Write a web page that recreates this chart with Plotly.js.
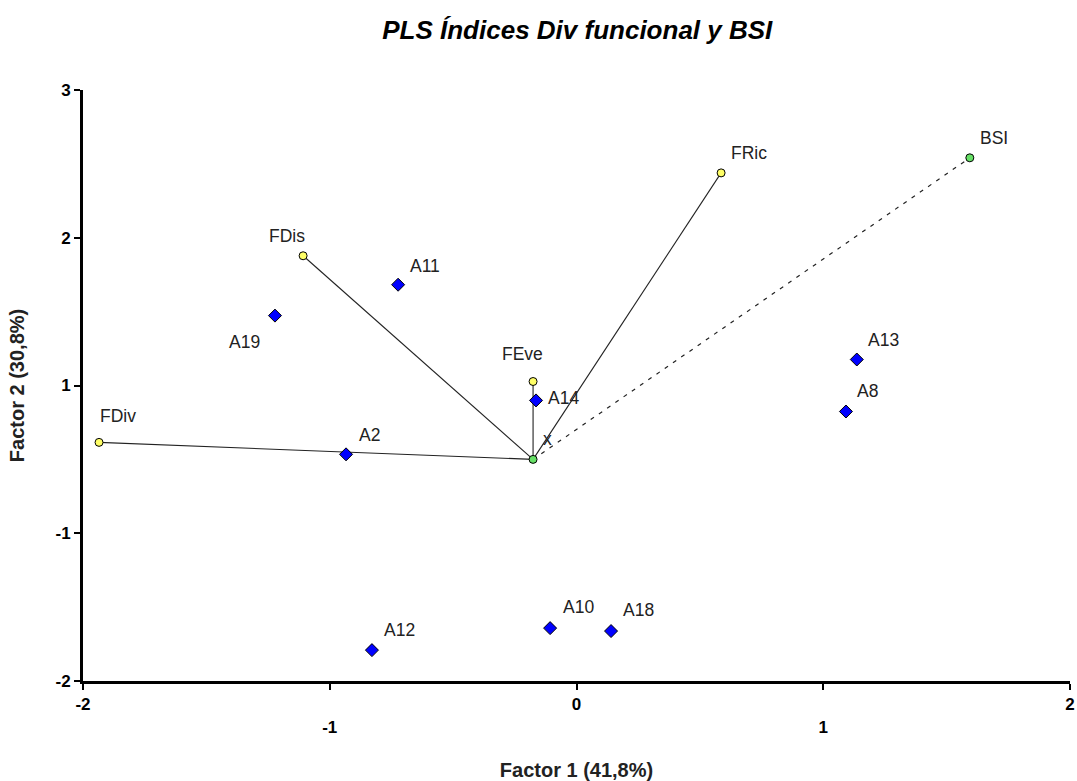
<!DOCTYPE html>
<html>
<head>
<meta charset="utf-8">
<script src="https://cdn.plot.ly/plotly-3.0.1.min.js"></script>
<style>html,body{margin:0;padding:0;background:#fff;}#chart{width:1077px;height:781px;}</style>
</head>
<body>
<div id="chart"></div>
<script>
// Centro del biplot
const centerName = ["x"];
const centerX = [-0.176];
const centerY = [-0.50];

// Variables (índices de diversidad funcional)
const varNames = ["FDiv", "FDis", "FEve", "FRic"];
const varX = [-1.935, -1.108, -0.176, 0.586];
const varY = [-0.385, 0.878, 0.027, 1.439];

// Variable respuesta
const respNames = ["BSI"];
const respX = [1.594];
const respY = [1.541];

// Sitios
const siteNames = ["A19", "A11", "A2", "A14", "A13", "A8", "A12", "A10", "A18"];
const siteX = [-1.222, -0.723, -0.934, -0.164, 1.136, 1.092, -0.829, -0.107, 0.140];
const siteY = [0.473, 0.682, -0.466, -0.101, 0.176, -0.176, -1.791, -1.642, -1.662];

// Ticks
const xTickVals = [-2, -1, 0, 1, 2];
const xTickText = ["-2", "<br>-1", "0", "<br>1", "2"];
const yTickVals = [-2, -1, 0, 1, 2];
const yTickText = ["-2", "-1", "1", "2", "3"];

const FONT = "Arial, 'Liberation Sans', sans-serif";
const NARROW = "'Liberation Sans Narrow', 'Arial Narrow', Arial, sans-serif";

const traces = [];
// solid vectors to variables
varX.forEach((vx, i) => {
  traces.push({
    x: [centerX[0], vx], y: [centerY[0], varY[i]],
    mode: "lines", line: {color: "#222", width: 1.1},
    hoverinfo: "skip", showlegend: false
  });
});
// dashed vector to BSI
respX.forEach((rx, i) => {
  traces.push({
    x: [centerX[0], rx], y: [centerY[0], respY[i]],
    mode: "lines", line: {color: "#222", width: 1.2, dash: "4px,6px"},
    hoverinfo: "skip", showlegend: false
  });
});
traces.push({
  x: siteX, y: siteY, text: siteNames, mode: "markers",
  marker: {symbol: "diamond", size: 10, color: "#0000ff", line: {color: "#000", width: 1}},
  showlegend: false
});
traces.push({
  x: varX, y: varY, text: varNames, mode: "markers",
  marker: {symbol: "circle", size: 8, color: "#ffff66", line: {color: "#000", width: 1}},
  showlegend: false
});
traces.push({
  x: respX.concat(centerX), y: respY.concat(centerY), mode: "markers",
  marker: {symbol: "circle", size: 8, color: "#66e066", line: {color: "#000", width: 1}},
  showlegend: false
});

// label offsets (px) relative to points
const siteOff = {A19: [-30, -26], A11: [27, 19], A2: [23, 19], A14: [27, 2], A13: [27, 20], A8: [22, 21], A12: [28, 20], A10: [28, 21], A18: [27, 21]};
const varOff = {FDiv: [19, 26], FDis: [-16, 20], FEve: [-11, 28], FRic: [28, 20]};
const respOff = {BSI: [24, 20]};
const centerOff = {x: [14, 20]};

const ann = [];
function addLabels(names, xs, ys, off) {
  names.forEach((n, i) => {
    ann.push({
      x: xs[i], y: ys[i], xref: "x", yref: "y", text: n, showarrow: false,
      xshift: off[n][0], yshift: off[n][1],
      font: {family: FONT, size: 17.5, color: "#222"}
    });
  });
}
addLabels(siteNames, siteX, siteY, siteOff);
addLabels(varNames, varX, varY, varOff);
addLabels(respNames, respX, respY, respOff);
addLabels(centerName, centerX, centerY, centerOff);

const layout = {
  width: 1077, height: 781,
  paper_bgcolor: "#fff", plot_bgcolor: "#fff",
  margin: {l: 83, r: 7, t: 90, b: 100},
  title: {
    text: "<b><i>PLS Índices Div funcional y BSI</i></b>",
    font: {family: FONT, size: 26, color: "#000"},
    x: 0.536, xanchor: "center", y: 0.962, yanchor: "middle", yref: "container"
  },
  xaxis: {
    range: [-2, 2], tickvals: xTickVals, ticktext: xTickText,
    showgrid: false, zeroline: false, showline: true, linecolor: "#000", linewidth: 3,
    ticks: "outside", ticklen: 6, tickwidth: 2, tickcolor: "#000",
    tickfont: {family: NARROW, size: 17, color: "#000", weight: "bold"},
    title: {text: "<b>Factor 1 (41,8%)</b>", font: {family: NARROW, size: 20, color: "#222"}, standoff: 28},
    automargin: false
  },
  yaxis: {
    range: [-2, 2], tickvals: yTickVals, ticktext: yTickText,
    showgrid: false, zeroline: false, showline: true, linecolor: "#000", linewidth: 3,
    ticks: "outside", ticklen: 6, tickwidth: 2, tickcolor: "#000",
    tickfont: {family: FONT, size: 17, color: "#000", weight: "bold"},
    title: {text: "<b>Factor 2 (30,8%)</b>", font: {family: NARROW, size: 20, color: "#222"}, standoff: 26},
    automargin: false
  },
  annotations: ann,
  hovermode: "closest"
};

Plotly.newPlot("chart", traces, layout, {displayModeBar: false, staticPlot: true});
</script>
</body>
</html>
